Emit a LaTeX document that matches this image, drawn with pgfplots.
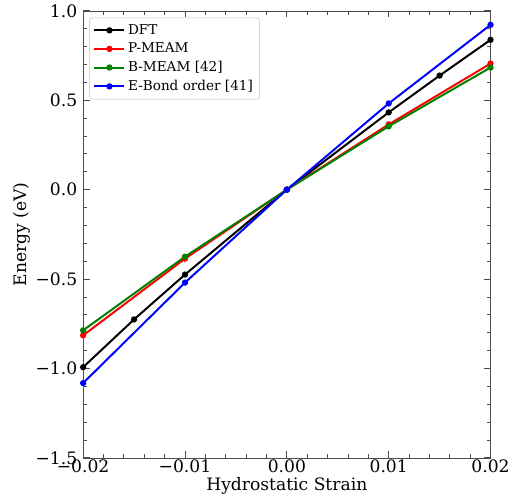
\documentclass[border=0pt]{standalone}
\usepackage{fontspec}
\setmainfont{DejaVu Serif}
\usepackage{pgfplots}
\pgfplotsset{compat=1.18}
\definecolor{mgreen}{RGB}{0,128,0}
\begin{document}
\begin{tikzpicture}
\begin{axis}[
  scale only axis,
  width=309pt, height=339pt,
  xmin=-0.02, xmax=0.02, ymin=-1.5, ymax=1.0,
  scaled ticks=false,
  xtick={-0.02,-0.01,0,0.01,0.02},
  xticklabels={−0.02,−0.01,0.00,0.01,0.02},
  ytick={-1.5,-1.0,-0.5,0,0.5,1.0},
  yticklabels={−1.5,−1.0,−0.5,0.0,0.5,1.0},
  minor x tick num=4, minor y tick num=4,
  tick align=inside,
  major tick length=5pt, minor tick length=3pt,
  xtick pos=both, ytick pos=both,
  axis line style={black!70},
  every tick/.style={black!70, line width=0.6pt},
  tick label style={font=\fontsize{13}{15}\selectfont},
  xticklabel style={yshift=2pt},
  yticklabel style={xshift=-1pt},
  label style={font=\fontsize{13}{15}\selectfont},
  xlabel={Hydrostatic Strain},
  ylabel={Energy (eV)},
  xlabel style={yshift=3pt},
  ylabel style={yshift=-3pt},
  legend cell align=left,
  legend style={font=\fontsize{10.3}{12.5}\selectfont, draw=black!25, rounded corners=2pt, at={(0.015,0.985)}, anchor=north west, row sep=1pt, inner sep=3pt},
  legend image code/.code={\draw[mark repeat=2,mark phase=2] plot coordinates {(0cm,0cm) (0.4cm,0cm) (0.8cm,0cm)};},
  every axis plot/.append style={line width=1.5pt, mark=*, mark size=1.6pt},
]
\addplot[black, mark options={black}] coordinates {(-0.02,-0.993) (-0.015,-0.726) (-0.01,-0.475) (0,0) (0.01,0.432) (0.015,0.638) (0.02,0.838)};
\addlegendentry{DFT}
\addplot[red, mark options={red}] coordinates {(-0.02,-0.815) (-0.01,-0.386) (0,0) (0.01,0.365) (0.02,0.705)};
\addlegendentry{P-MEAM}
\addplot[mgreen, mark options={mgreen}] coordinates {(-0.02,-0.787) (-0.01,-0.375) (0,0) (0.01,0.354) (0.02,0.683)};
\addlegendentry{B-MEAM [42]}
\addplot[blue, mark options={blue}] coordinates {(-0.02,-1.082) (-0.01,-0.52) (0,0) (0.01,0.482) (0.02,0.922)};
\addlegendentry{E-Bond order [41]}
\end{axis}
\path ([xshift=-7pt]current bounding box.west) -- ([yshift=3pt]current bounding box.south);
\end{tikzpicture}
\end{document}
